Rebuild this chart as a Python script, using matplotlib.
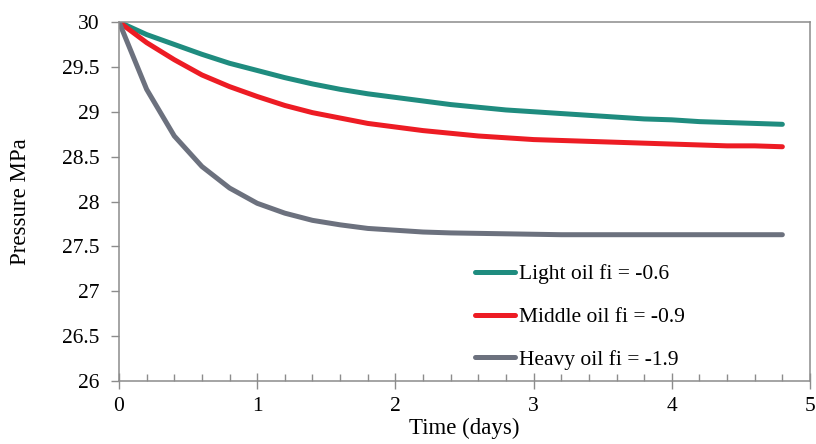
import matplotlib
matplotlib.use("Agg")
import matplotlib.pyplot as plt
from matplotlib.ticker import MultipleLocator

plt.rcParams["font.family"] = ["Liberation Serif", "DejaVu Serif"]

# time in days, step 0.2
time_days = [0.0, 0.2, 0.4, 0.6, 0.8, 1.0, 1.2, 1.4, 1.6, 1.8, 2.0, 2.2, 2.4,
             2.6, 2.8, 3.0, 3.2, 3.4, 3.6, 3.8, 4.0, 4.2, 4.4, 4.6, 4.8]

light_oil = [30.0, 29.86, 29.75, 29.64, 29.54, 29.46, 29.38, 29.31, 29.25, 29.20,
             29.16, 29.12, 29.08, 29.05, 29.02, 29.00, 28.98, 28.96, 28.94, 28.92,
             28.91, 28.89, 28.88, 28.87, 28.86]
middle_oil = [30.0, 29.77, 29.58, 29.41, 29.28, 29.17, 29.07, 28.99, 28.93, 28.87,
              28.83, 28.79, 28.76, 28.73, 28.71, 28.69, 28.68, 28.67, 28.66, 28.65,
              28.64, 28.63, 28.62, 28.62, 28.61]
heavy_oil = [30.0, 29.25, 28.73, 28.39, 28.15, 27.98, 27.87, 27.79, 27.74, 27.70,
             27.68, 27.66, 27.65, 27.645, 27.64, 27.635, 27.63, 27.63, 27.63, 27.63,
             27.63, 27.63, 27.63, 27.63, 27.63]

labels = ["Light oil fi = -0.6", "Middle oil fi = -0.9", "Heavy oil fi = -1.9"]
colors = ["#1F8C7F", "#ED1C24", "#6C717E"]

fig = plt.figure(figsize=(8.16, 4.44), dpi=100)
ax = fig.add_axes([119 / 816, 1 - 381 / 444, 691 / 816, 359 / 444])

for y, lab, c in zip([light_oil, middle_oil, heavy_oil], labels, colors):
    ax.plot(time_days, y, color=c, lw=3.6, label=lab, solid_capstyle="round")

ax.set_xlim(0, 5)
ax.set_ylim(26, 30)
ax.xaxis.set_major_locator(MultipleLocator(1))
ax.xaxis.set_minor_locator(MultipleLocator(0.2))
ax.yaxis.set_major_locator(MultipleLocator(0.5))
ax.yaxis.set_major_formatter(plt.FuncFormatter(lambda v, p: f"{v:g}"))

for s in ax.spines.values():
    s.set_color("#8C8C8C")
    s.set_linewidth(1.1)

ax.tick_params(axis="x", which="major", direction="inout", length=11, width=1,
               color="#8C8C8C", labelsize=15.5, pad=6)
ax.tick_params(axis="x", which="minor", direction="in", length=5, width=1,
               color="#8C8C8C")
ax.tick_params(axis="y", which="major", direction="out", length=6, width=1,
               color="#8C8C8C", labelsize=15.5, pad=8)

ax.set_xlabel("Time (days)", fontsize=16.5)
ax.set_ylabel("Pressure MPa", fontsize=16.5)
ax.xaxis.set_label_coords(0.5, -0.103)
ax.yaxis.set_label_coords(-0.128, 0.5)

ax.legend(loc="upper left", bbox_to_anchor=(0.515, 0.325), frameon=False,
          fontsize=15.5, handlelength=1.86, handletextpad=0.2, labelspacing=1.05,
          borderpad=0, borderaxespad=0)

fig.savefig("out.png", dpi=100)
